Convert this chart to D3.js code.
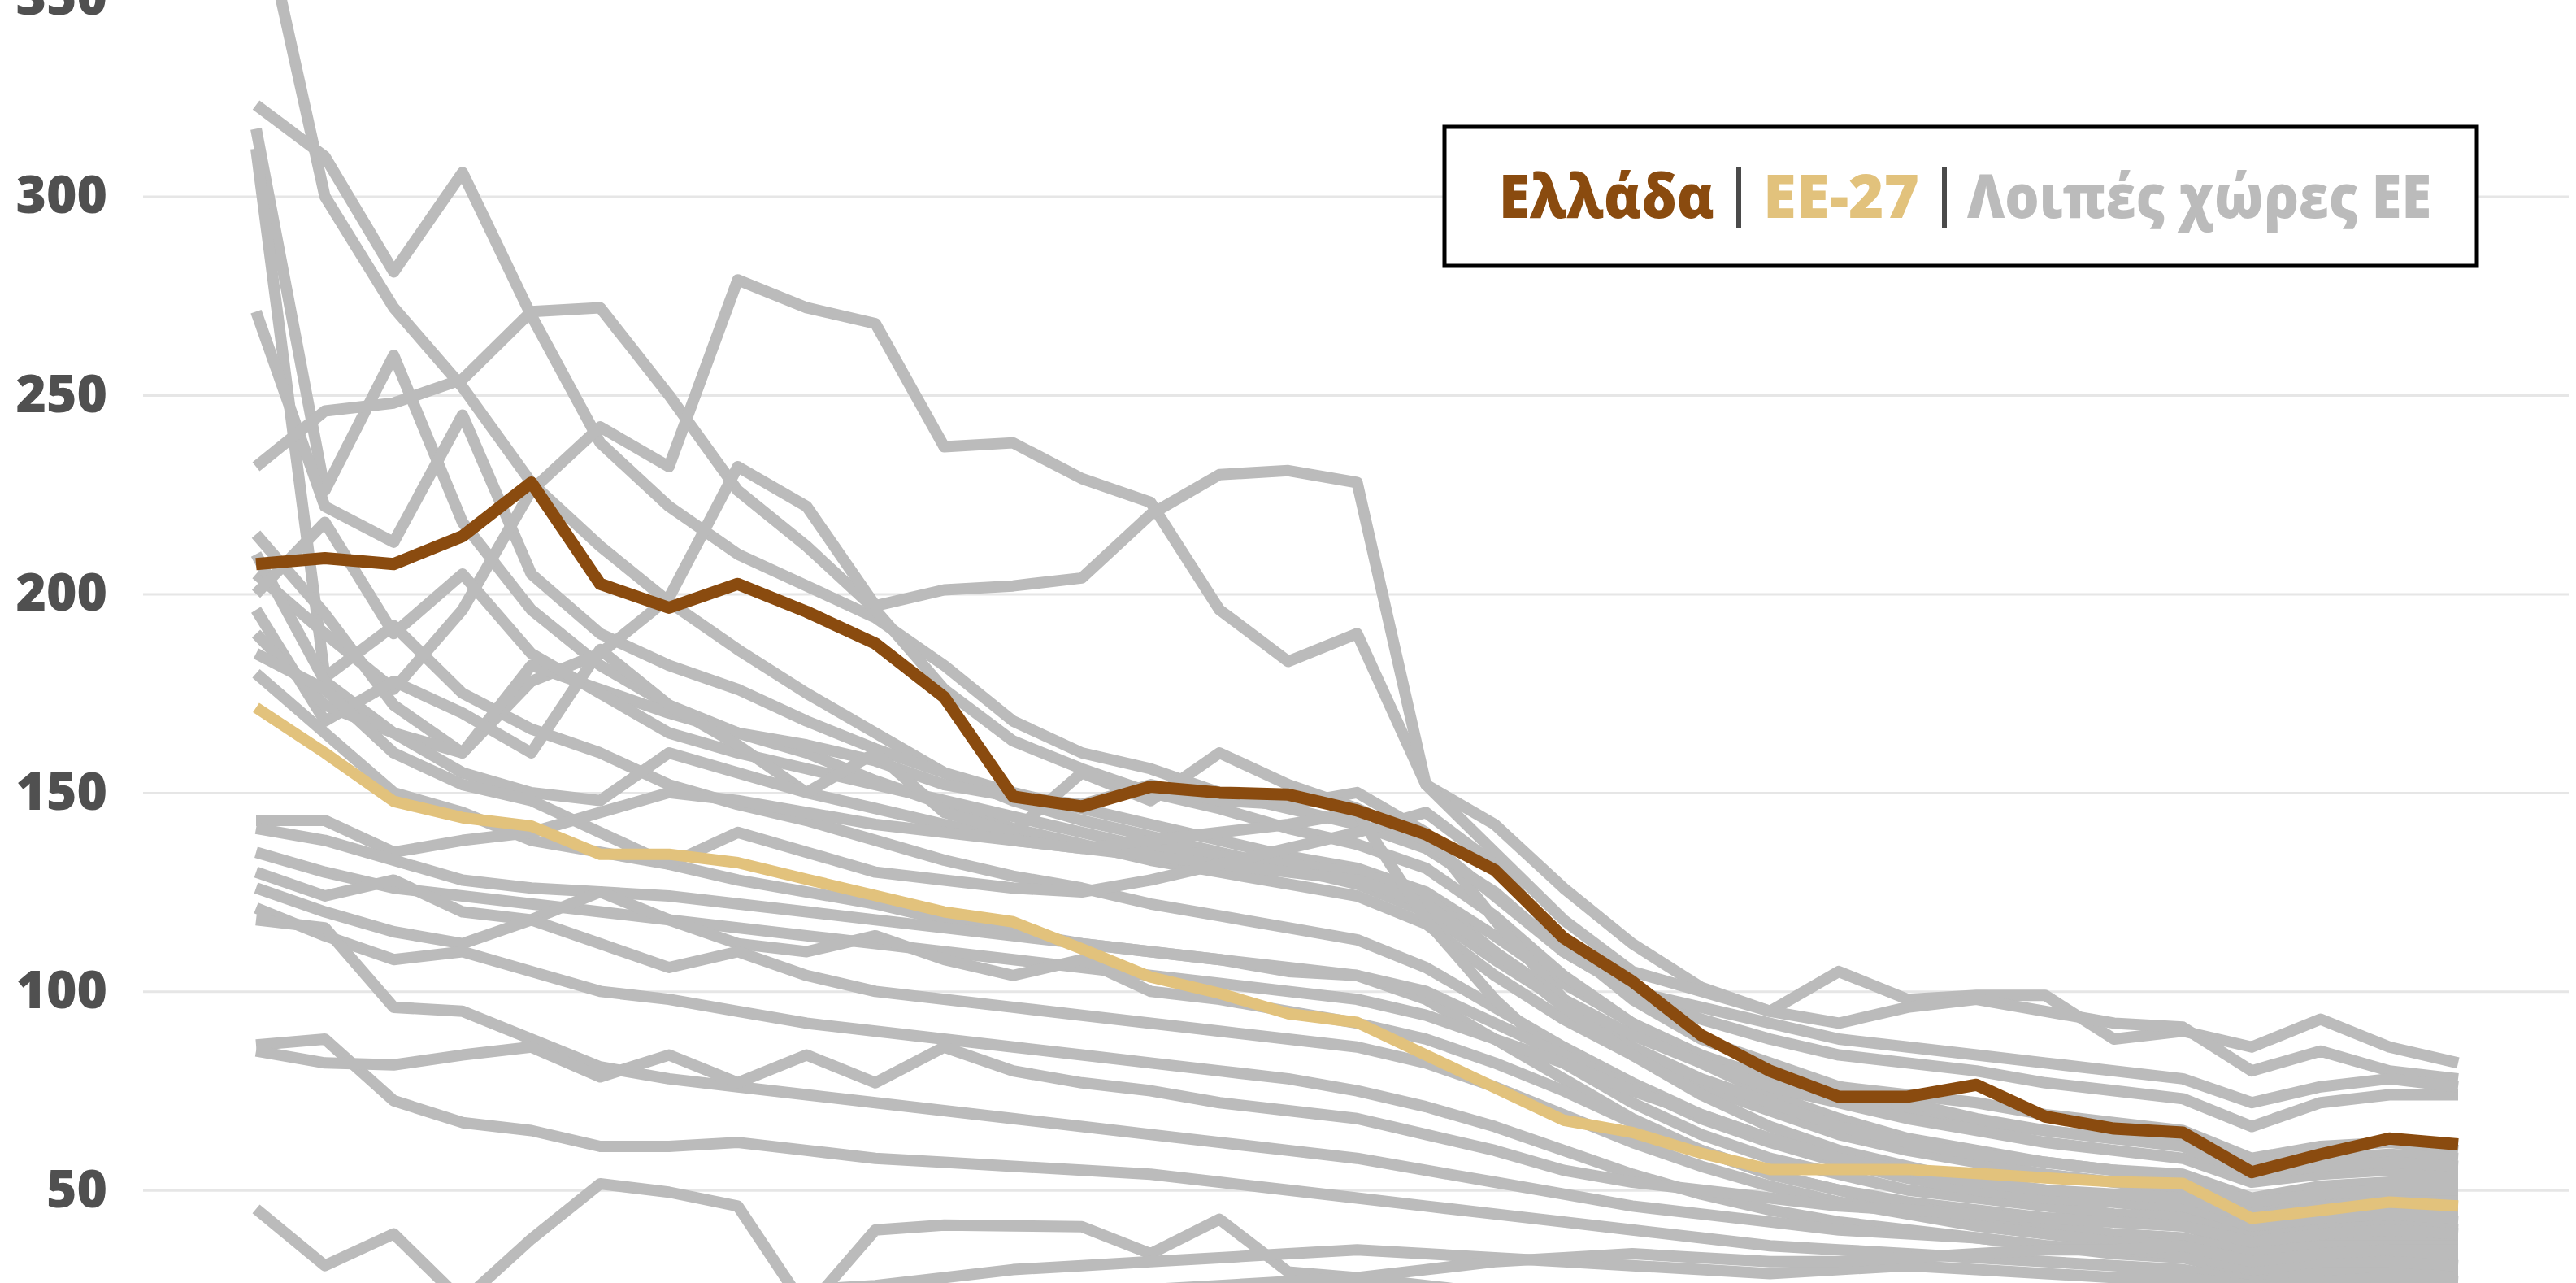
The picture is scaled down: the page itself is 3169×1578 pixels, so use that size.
<!DOCTYPE html>
<html>
<head>
<meta charset="utf-8">
<script src="https://cdn.jsdelivr.net/npm/d3@7"></script>
<style>
  html, body { margin: 0; padding: 0; background: #ffffff; }
  svg { display: block; }
</style>
</head>
<body>
<svg id="chart" width="3169" height="1578"></svg>
<script>
// ---------------- DATA ----------------
const years = d3.range(1990, 2023);          // 33 yearly points
const yTicks = [50, 100, 150, 200, 250, 300, 350];

const greece = [207.5, 209, 207.5, 214.5, 228, 202.5, 196.5, 202.5, 195.5, 187.5, 174, 149, 146.5, 151.5, 150, 149.5, 145.5, 139.5, 130.5, 113.5, 102.5, 89, 80, 73.5, 73.5, 76.5, 68.5, 65.5, 64.5, 54.5, 59, 63, 61.5];
const eu27 = [171.4, 160, 147.8, 143.7, 141.6, 134.5, 134.5, 132.4, 128.2, 124.1, 120, 117.5, 110.7, 103.6, 99.5, 94.4, 92.2, 84, 75.8, 67.6, 64.5, 59.3, 55.2, 55.2, 55.2, 54.2, 53.1, 52.1, 51.7, 42.9, 44.9, 47, 46];

const other01 = [378, 300, 272, 252, 228, 212, 198, 186, 175, 165, 155, 148, 143, 139, 135, 131, 127, 120, 108, 97, 89, 83, 79, 76, 74, 72, 69, 67, 65, 58, 61, 62, 60];
const other02 = [323, 310, 281, 306, 270, 238, 222, 210, 202, 194, 182, 168, 160, 156, 150, 146, 142, 136, 125, 110, 100, 93, 88, 84, 82, 80, 77, 75, 73, 66, 72, 74, 74];
const other03 = [317, 226, 260, 218, 196, 182, 172, 165, 160, 153, 147, 141, 137, 133, 130, 127, 124, 117, 104, 93, 84, 76, 70, 64, 60, 57, 54, 52, 50, 45, 47, 48, 48];
const other04 = [312, 179, 192, 175, 166, 160, 152, 147, 143, 138, 133, 129, 126, 122, 119, 116, 113, 106, 96, 86, 77, 69, 63, 58, 54, 51, 49, 47, 45, 40, 42, 43, 42];
const other05 = [271, 222, 213, 245, 205, 190, 182, 176, 168, 161, 155, 150, 146, 142, 138, 134, 131, 125, 114, 102, 92, 84, 78, 73, 70, 67, 65, 63, 62, 56, 58, 59, 58];
const other06 = [232, 246, 248, 254, 271, 272, 250, 226, 212, 196, 176, 163, 156, 150, 146, 141, 137, 131, 119, 104, 92, 82, 74, 68, 63, 60, 57, 55, 54, 48, 51, 52, 52];
const other07 = [205, 190, 176, 196, 226, 242, 232, 279, 272, 268, 237, 238, 229, 223, 196, 183, 190, 152, 142, 126, 112, 101, 95, 105, 98, 99, 99, 88, 90, 86, 93, 86, 82];
const other08 = [215, 195, 172, 160, 178, 185, 199, 232, 222, 197, 201, 202, 204, 220, 230, 231, 228, 152, 135, 118, 105, 100, 95, 92, 96, 98, 95, 92, 91, 80, 85, 80, 78];
const other09 = [210, 178, 165, 160, 182, 176, 170, 165, 162, 158, 152, 149, 147, 152, 148, 147, 150, 140, 118, 98, 86, 78, 72, 66, 62, 59, 57, 55, 53, 47, 49, 50, 50];
const other10 = [200, 218, 190, 205, 185, 175, 165, 160, 156, 152, 148, 144, 140, 136, 134, 132, 130, 124, 110, 98, 89, 82, 76, 72, 68, 65, 62, 60, 58, 52, 54, 55, 55];
const other11 = [196, 168, 178, 170, 160, 186, 172, 162, 150, 146, 142, 138, 136, 134, 132, 130, 128, 122, 110, 96, 84, 74, 66, 60, 56, 52, 50, 48, 47, 42, 44, 45, 45];
const other12 = [190, 172, 165, 155, 150, 148, 160, 155, 150, 160, 145, 140, 155, 148, 160, 152, 146, 138, 124, 110, 100, 96, 92, 88, 86, 84, 82, 80, 78, 72, 76, 78, 76];
const other13 = [185, 176, 160, 152, 148, 140, 132, 128, 125, 122, 118, 115, 112, 110, 108, 105, 104, 98, 88, 78, 68, 60, 54, 50, 47, 45, 43, 42, 41, 36, 38, 38, 38];
const other14 = [180, 165, 150, 145, 138, 135, 132, 140, 135, 130, 128, 126, 125, 128, 132, 136, 140, 145, 132, 112, 98, 88, 82, 76, 72, 68, 65, 63, 61, 54, 56, 57, 56];
const other15 = [143, 143, 135, 138, 140, 145, 150, 148, 145, 142, 140, 138, 136, 138, 140, 142, 145, 118, 98, 82, 72, 64, 58, 54, 50, 48, 46, 44, 43, 38, 40, 41, 40];
const other16 = [141, 138, 133, 128, 126, 125, 124, 122, 120, 118, 116, 114, 112, 110, 108, 106, 104, 100, 92, 84, 76, 68, 62, 57, 53, 50, 48, 47, 46, 41, 43, 44, 44];
const other17 = [135, 130, 126, 124, 122, 120, 118, 116, 114, 112, 110, 108, 106, 104, 102, 100, 98, 94, 88, 82, 75, 69, 63, 58, 55, 52, 50, 49, 48, 43, 46, 47, 47];
const other18 = [130, 124, 128, 120, 118, 125, 118, 112, 110, 114, 108, 104, 108, 100, 98, 95, 92, 88, 82, 75, 67, 60, 54, 50, 46, 43, 41, 39, 38, 34, 36, 36, 36];
const other19 = [126, 120, 115, 112, 118, 112, 106, 110, 104, 100, 98, 96, 94, 92, 90, 88, 86, 82, 76, 69, 62, 56, 51, 47, 44, 41, 39, 37, 36, 32, 33, 33, 33];
const other20 = [121, 114, 108, 110, 105, 100, 98, 95, 92, 90, 88, 86, 84, 82, 80, 78, 75, 71, 66, 60, 54, 49, 45, 42, 40, 38, 36, 34, 33, 29, 30, 30, 30];
const other21 = [118, 116, 96, 95, 88, 81, 78, 76, 74, 72, 70, 68, 66, 64, 62, 60, 58, 55, 52, 49, 46, 44, 42, 40, 39, 38, 36, 35, 34, 30, 32, 32, 31];
const other22 = [86.5, 88, 72.5, 67, 65, 61, 61, 62, 60, 58, 57, 56, 55, 54, 52, 50, 48, 46, 44, 42, 40, 38, 36, 35, 34, 33, 32, 31, 30, 27, 28, 28, 27];
const other23 = [85, 82, 81.5, 84, 86, 78.5, 84, 77, 84, 77, 86, 80, 77, 75, 72, 70, 68, 64, 60, 55, 52, 50, 48, 46, 45, 44, 43, 42, 41, 37, 39, 40, 39];
const other24 = [45.3, 31, 39, 22, 37.7, 51.6, 49.5, 46, 20, 40, 41.2, 41, 40.8, 34, 42.7, 29.4, 28, 26, 24, 22, 20, 19, 18, 17, 16, 15, 15, 14, 14, 12, 13, 13, 13];
const other25 = [20, 18, 17, 16, 18, 20, 22, 24, 25, 26, 28, 30, 31, 32, 33, 34, 35, 34, 33, 32, 31, 30, 29, 30, 31, 30, 29, 28, 28, 26, 27, 28, 28];
const other26 = [24, 22, 21, 20, 19, 18, 18, 19, 20, 21, 22, 23, 24, 25, 26, 27, 28, 30, 32, 33, 34, 33, 32, 32, 33, 34, 35, 35, 36, 32, 34, 35, 35];

const others = [other01, other02, other03, other04, other05, other06, other07, other08, other09, other10,
                other11, other12, other13, other14, other15, other16, other17, other18, other19, other20,
                other21, other22, other23, other24, other25, other26];

const legendLabels = ["Ελλάδα", "ΕΕ-27", "Λοιπές χώρες ΕΕ"];

// ---------------- STYLE ----------------
const COL_GR = "#8a4b0f";
const COL_EU = "#e2c27c";
const COL_OTHER = "#bbbbbb";
const FONT = "'Open Sans', 'Noto Sans', sans-serif";

const W = 3169, H = 1578;
const svg = d3.select("#chart");
svg.append("rect").attr("width", W).attr("height", H).attr("fill", "#ffffff");

const x = d3.scaleLinear().domain([1990, 2022]).range([315, 3024]);
const y = d3.scaleLinear().domain([50, 300]).range([1463.8, 241.5]);

// gridlines + labels via axis
const yAxis = d3.axisLeft(y).tickValues(yTicks).tickSize(-(3160 - 176)).tickPadding(44).tickFormat(d3.format("d"));
const gAxis = svg.append("g").attr("transform", "translate(176,0)").call(yAxis);
gAxis.select(".domain").remove();
gAxis.selectAll(".tick line").attr("stroke", "#e6e6e6").attr("stroke-width", 3);
gAxis.selectAll(".tick text")
  .attr("fill", "#505050")
  .style("font-family", FONT)
  .style("font-weight", 800)
  .style("font-size", "64px");

const line = d3.line().x((d, i) => x(years[i])).y(d => y(d));

const gLines = svg.append("g");
gLines.selectAll("path.other").data(others).join("path")
  .attr("class", "other")
  .attr("d", line)
  .attr("fill", "none")
  .attr("stroke", COL_OTHER)
  .attr("stroke-width", 14)
  .attr("stroke-linejoin", "round");

gLines.append("path").datum(eu27).attr("d", line)
  .attr("fill", "none").attr("stroke", COL_EU).attr("stroke-width", 14).attr("stroke-linejoin", "round");
gLines.append("path").datum(greece).attr("d", line)
  .attr("fill", "none").attr("stroke", COL_GR).attr("stroke-width", 15).attr("stroke-linejoin", "round");

// ---------------- LEGEND ----------------
const lg = svg.append("g");
lg.append("rect").attr("x", 1777).attr("y", 156).attr("width", 1270).attr("height", 171)
  .attr("fill", "#ffffff").attr("stroke", "#000000").attr("stroke-width", 5);

const legendCols = [COL_GR, COL_EU, COL_OTHER];
const legendX = [1844, 2169, 2420];
const legendW = [265, 192, 571];
legendLabels.forEach((t, i) => {
  const tx = lg.append("text").attr("x", legendX[i]).attr("y", 268)
    .attr("fill", legendCols[i])
    .style("font-family", FONT).style("font-weight", 800).style("font-size", "75px")
    .text(t);
  const w = tx.node().getComputedTextLength();
  if (w > 0) tx.attr("textLength", legendW[i]).attr("lengthAdjust", "spacingAndGlyphs");
});
[2139, 2392].forEach(sx => {
  lg.append("line").attr("x1", sx).attr("x2", sx).attr("y1", 206).attr("y2", 280)
    .attr("stroke", "#4a4a4a").attr("stroke-width", 6);
});
</script>
</body>
</html>
